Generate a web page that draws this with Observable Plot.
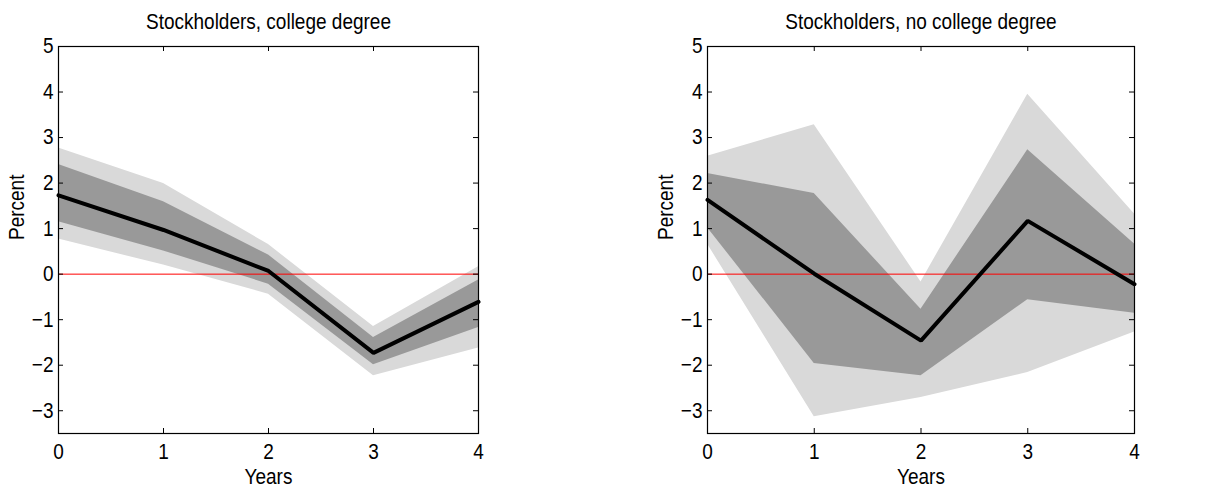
<!DOCTYPE html>
<html>
<head>
<meta charset="utf-8">
<script src="https://cdn.jsdelivr.net/npm/d3@7"></script>
<script src="https://cdn.jsdelivr.net/npm/@observablehq/plot@0.6"></script>
<style>
  html, body { margin: 0; padding: 0; background: white; }
  #row { display: flex; flex-direction: row; width: 1230px; height: 487px; }
  #row svg { display: block; }
</style>
</head>
<body>
<div id="row"></div>
<script>
// ---- data ----
const years = [0, 1, 2, 3, 4];
const yTicks = [-3, -2, -1, 0, 1, 2, 3, 4, 5];

const panelTitles = ["Stockholders, college degree", "Stockholders, no college degree"];
const xLabel = "Years";
const yLabel = "Percent";

// college degree
const collegeMean = [1.73, 0.97, 0.07, -1.73, -0.61];
const collegeLo68 = [1.15, 0.51, -0.22, -1.99, -1.17];
const collegeHi68 = [2.41, 1.59, 0.42, -1.39, -0.13];
const collegeLo90 = [0.77, 0.20, -0.44, -2.23, -1.62];
const collegeHi90 = [2.77, 1.99, 0.65, -1.15, 0.16];

// no college degree
const noCollegeMean = [1.63, 0.01, -1.46, 1.17, -0.22];
const noCollegeLo68 = [1.02, -1.96, -2.23, -0.56, -0.86];
const noCollegeHi68 = [2.21, 1.77, -0.77, 2.73, 0.66];
const noCollegeLo90 = [0.66, -3.13, -2.71, -2.16, -1.27];
const noCollegeHi90 = [2.59, 3.28, -0.17, 3.95, 1.32];

function table(mean, lo68, hi68, lo90, hi90) {
  return years.map((t, i) => ({t, mean: mean[i], lo68: lo68[i], hi68: hi68[i], lo90: lo90[i], hi90: hi90[i]}));
}

const H = 487, MT = 46, MB = 54;
const innerH = H - MT - MB;
const TICK = 5;
const FONT = "'Liberation Sans', Arial, Helvetica, sans-serif";
const FS = 19;
const STRETCH = 1.13; // the reference's text is drawn slightly tall/condensed

function panel(data, title, width, ml, mr) {
  const innerW = width - ml - mr;
  const svg = Plot.plot({
    width, height: H,
    marginLeft: ml, marginRight: mr, marginTop: MT, marginBottom: MB,
    style: {fontFamily: FONT, fontSize: FS + "px", background: "white", color: "black"},
    x: {domain: [0, 4]},
    y: {domain: [-3.5, 5]},
    marks: [
      Plot.areaY(data, {x: "t", y1: "lo90", y2: "hi90", fill: "#d9d9d9"}),
      Plot.areaY(data, {x: "t", y1: "lo68", y2: "hi68", fill: "#999999"}),
      Plot.ruleY([0], {stroke: "#ff0000", strokeWidth: 1}),
      Plot.line(data, {x: "t", y: "mean", stroke: "black", strokeWidth: 4, strokeLinejoin: "miter"}),
      Plot.frame({stroke: "black", strokeWidth: 1.2}),
      // inward tick marks on all four sides
      Plot.ruleX(years, {stroke: "black", insetTop: innerH - TICK}),
      Plot.ruleX(years, {stroke: "black", insetBottom: innerH - TICK}),
      Plot.ruleY(yTicks, {stroke: "black", insetRight: innerW - TICK}),
      Plot.ruleY(yTicks, {stroke: "black", insetLeft: innerW - TICK}),
      Plot.axisX(years, {tickSize: 0, tickPadding: 10, label: null, fontSize: FS}),
      Plot.axisY(yTicks, {tickSize: 0, tickPadding: 5, label: null, fontSize: FS}),
      Plot.text([title], {frameAnchor: "top", lineAnchor: "bottom", dy: -18, fontSize: FS}),
      Plot.text([xLabel], {frameAnchor: "bottom", lineAnchor: "bottom", dy: 50, fontSize: FS}),
      Plot.text([yLabel], {frameAnchor: "left", lineAnchor: "bottom", rotate: -90, dx: -35, fontSize: FS})
    ]
  });
  svg.querySelectorAll("text").forEach(t => {
    const tr = t.getAttribute("transform");
    if (tr) t.setAttribute("transform", tr + ` scale(1,${STRETCH})`);
  });
  return svg;
}

const row = document.getElementById("row");
row.appendChild(panel(table(collegeMean, collegeLo68, collegeHi68, collegeLo90, collegeHi90), panelTitles[0], 615, 58, 137));
row.appendChild(panel(table(noCollegeMean, noCollegeLo68, noCollegeHi68, noCollegeLo90, noCollegeHi90), panelTitles[1], 615, 92, 96));
</script>
</body>
</html>
